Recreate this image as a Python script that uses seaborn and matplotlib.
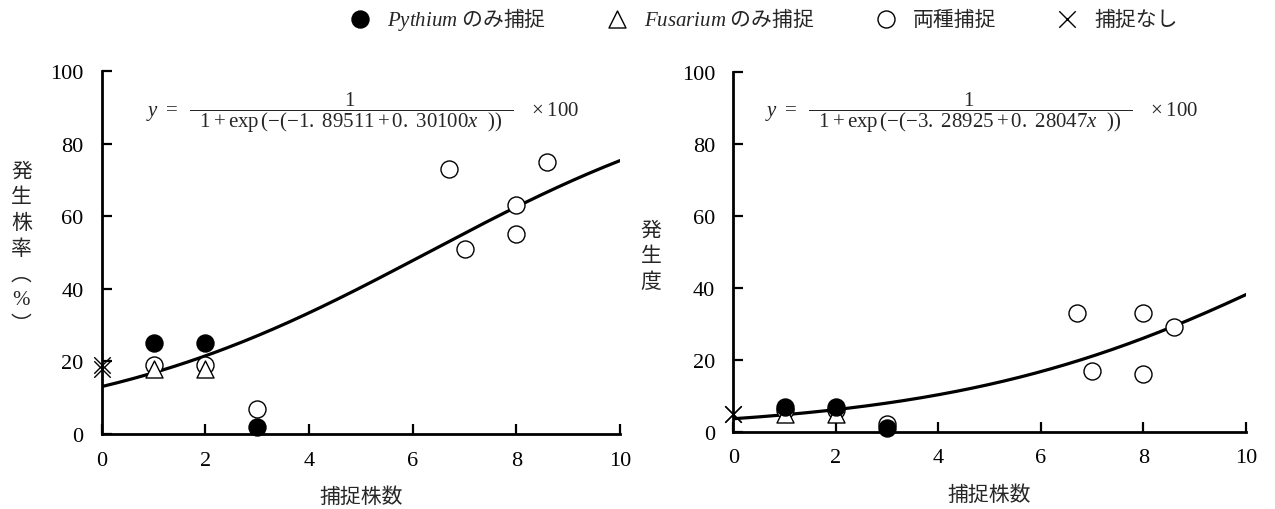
import numpy as np
import pandas as pd
import matplotlib
matplotlib.use("Agg")
import matplotlib.pyplot as plt
import seaborn as sns

# -----------------------------
# data
# -----------------------------
pythium_x = [1, 2, 3]
pythium_rate = [25, 25, 2]
pythium_severity = [7, 7, 1]

fusarium_x = [1, 2]
fusarium_rate = [18, 18]
fusarium_severity = [5, 5]

both_x = [1, 2, 3, 6.7, 7, 8, 8, 8.6]
both_rate = [19, 19, 7, 73, 51, 63, 55, 75]
both_severity = [6, 6, 2, 33, 17, 33, 16, 29]

none_x = [0, 0]
none_rate = [18, 19]
none_severity = [5, 5]

# fitted logistic coefficients (intercept, slope) printed on the chart
rate_coef = (-1.89511, 0.30100)
severity_coef = (-3.28925, 0.28047)
rate_coef_text = ("-1.\\ 89511", "0.\\ 30100")
severity_coef_text = ("-3.\\ 28925", "0.\\ 28047")

legend_labels = [r"$\mathit{Pythium}$ のみ捕捉", r"$\mathit{Fusarium}$ のみ捕捉",
                 "両種捕捉", "捕捉なし"]
x_label = "捕捉株数"
rate_label = "発\n生\n株\n率\n︵\n%\n︶"
severity_label = "発\n生\n度"
x_ticks = [0, 2, 4, 6, 8, 10]
y_ticks = [0, 20, 40, 60, 80, 100]

sns.set_theme(style="ticks")
plt.rcParams["font.family"] = ["Liberation Serif", "Noto Sans CJK JP", "DejaVu Sans"]
plt.rcParams["mathtext.fontset"] = "custom"
plt.rcParams["mathtext.rm"] = "Liberation Serif"
plt.rcParams["mathtext.it"] = "Liberation Serif:italic"
plt.rcParams["mathtext.bf"] = "Liberation Serif:bold"


def logistic_curve(coef):
    xs = np.linspace(0, 10, 200)
    ys = 100.0 / (1.0 + np.exp(-(coef[0] + coef[1] * xs)))
    return pd.DataFrame({"x": xs, "y": ys})


def draw_panel(ax, rate_p, rate_f, rate_b, rate_n, coef, coef_text, ylabel, ylabel_xy, eq_x):
    curve = logistic_curve(coef)
    sns.lineplot(data=curve, x="x", y="y", color="black", linewidth=2.3, ax=ax, zorder=2)

    mk = dict(s=150, edgecolor="black", linewidth=1.0, ax=ax, zorder=3, clip_on=False)
    sns.scatterplot(x=both_x, y=rate_b, marker="o", color="white", label=legend_labels[2], **mk)
    sns.scatterplot(x=fusarium_x, y=rate_f, marker="^", color="white", label=legend_labels[1], **mk)
    sns.scatterplot(x=pythium_x, y=rate_p, marker="o", color="black", label=legend_labels[0], **mk)
    sns.scatterplot(x=none_x, y=rate_n, marker="x", color="black", s=140, linewidth=1.0,
                    ax=ax, zorder=4, clip_on=False, label=legend_labels[3])
    if ax.get_legend() is not None:
        ax.get_legend().remove()

    ax.set_xlim(0, 10)
    ax.set_ylim(0, 100)
    ax.set_xticks(x_ticks)
    ax.set_yticks(y_ticks)
    ax.tick_params(direction="in", length=7, width=1.6, labelsize=16, colors="black")
    ax.tick_params(axis="y", pad=13)
    ax.tick_params(axis="x", pad=12)
    for side in ["top", "right"]:
        ax.spines[side].set_visible(False)
    for side in ["left", "bottom"]:
        ax.spines[side].set_linewidth(2.0)
        ax.spines[side].set_color("black")
    ax.set_xlabel(x_label, fontsize=15, labelpad=13)
    ax.set_ylabel(ylabel, fontsize=15, rotation=0, linespacing=1.45, va="center", ha="center")
    ax.yaxis.set_label_coords(*ylabel_xy)

    eq = (r"$y\ =\ \ \dfrac{1}{\ \ 1+\mathrm{exp}\,(-(" + coef_text[0] + "+" + coef_text[1]
          + r"x\ \ ))\ \ }\ \ \ \times 100$")
    ax.text(eq_x, 88.8, eq, fontsize=15, ha="center", va="center")


fig = plt.figure(figsize=(12.75, 5.1), dpi=100)
ax1 = fig.add_axes([0.0798, 0.147, 0.4065, 0.712])
ax2 = fig.add_axes([0.5751, 0.1516, 0.4022, 0.7054])

draw_panel(ax1, pythium_rate, fusarium_rate, both_rate, none_rate,
           rate_coef, rate_coef_text, rate_label, (-0.155, 0.51), 5.03)
draw_panel(ax2, pythium_severity, fusarium_severity, both_severity, none_severity,
           severity_coef, severity_coef_text, severity_label, (-0.16, 0.485), 4.85)

handles, labels = ax1.get_legend_handles_labels()
order = [labels.index(l) for l in legend_labels]
fig.legend([handles[i] for i in order], [labels[i] for i in order],
           loc="center", bbox_to_anchor=(0.599, 0.962), ncol=4, frameon=False,
           prop={"family": "Noto Sans CJK JP", "size": 15},
           handlelength=1.0, handletextpad=0.8, columnspacing=2.9)

fig.savefig("out.png", dpi=100, facecolor="white")
